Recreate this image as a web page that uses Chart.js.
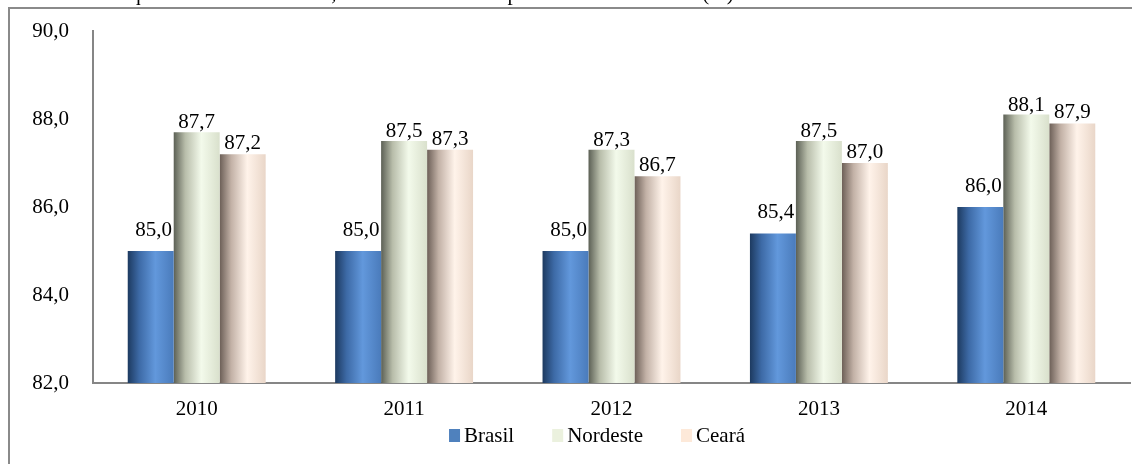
<!DOCTYPE html>
<html>
<head>
<meta charset="utf-8">
<script src="https://cdn.jsdelivr.net/npm/chart.js@4.4.1/dist/chart.umd.min.js"></script>
<style>
  html, body { margin: 0; padding: 0; background: #fff; overflow: hidden; }
  #wrap { position: relative; width: 1132px; height: 464px; }
  #frame { position: absolute; left: 8px; top: 7px; width: 1300px; height: 700px;
           border-top: 2px solid #8a8a8a; border-left: 2px solid #8a8a8a; }
  canvas { position: absolute; left: 0; top: 0; }
</style>
</head>
<body>
<div id="wrap">
  <div id="frame"></div>
  <canvas id="chart" width="1132" height="464"></canvas>
</div>
<script>
const titleText = "Taxa de frequência escolar – Brasil, Nordeste e Ceará – pessoas de 6 a 14 anos (%)";
const years = ["2010", "2011", "2012", "2013", "2014"];
const brasil = [85.0, 85.0, 85.0, 85.4, 86.0];
const nordeste = [87.7, 87.5, 87.3, 87.5, 88.1];
const ceara = [87.2, 87.3, 86.7, 87.0, 87.9];
const yTicks = [82, 84, 86, 88, 90];

const FONT = '"Liberation Serif", "Times New Roman", serif';
const SIZE = 21;

// dark edge -> light middle -> slightly darker right edge, like the 3D cylinders
const shades = [
  { legend: "#4f81bd", stops: ["#1d3a60", "#3d6aa6", "#6298dc", "#4a7bbb"], labelGap: 15 },
  { legend: "#ebf1de", stops: ["#5c6055", "#b8bdaa", "#f3faeb", "#d9e0cc"], labelGap: 4 },
  { legend: "#fde9d9", stops: ["#6c5f57", "#c2b1a6", "#fff3ea", "#e9d6c8"], labelGap: 5 }
];

function fmt(v) {
  return v.toFixed(1).replace(".", ",");
}

const gradientBars = {
  id: "gradientBars",
  beforeDatasetsDraw(chart) {
    const ctx = chart.ctx;
    chart.data.datasets.forEach((ds, i) => {
      const s = shades[i].stops;
      chart.getDatasetMeta(i).data.forEach(el => {
        const { x, width } = el.getProps(["x", "width"], true);
        const g = ctx.createLinearGradient(x - width / 2, 0, x + width / 2, 0);
        g.addColorStop(0, s[0]);
        g.addColorStop(0.25, s[1]);
        g.addColorStop(0.6, s[2]);
        g.addColorStop(1, s[3]);
        el.options = Object.assign({}, el.options, { backgroundColor: g });
      });
    });
  }
};

const valueLabels = {
  id: "valueLabels",
  afterDatasetsDraw(chart) {
    const ctx = chart.ctx;
    ctx.save();
    ctx.font = SIZE + "px " + FONT;
    ctx.fillStyle = "#000";
    ctx.textAlign = "center";
    ctx.textBaseline = "alphabetic";
    chart.data.datasets.forEach((ds, i) => {
      chart.getDatasetMeta(i).data.forEach((el, j) => {
        const { x, y } = el.getProps(["x", "y"], true);
        ctx.fillText(fmt(ds.data[j]), x + (i === 0 ? 3 : 0), y - shades[i].labelGap);
      });
    });
    ctx.restore();
  }
};

const extras = {
  id: "extras",
  afterDraw(chart) {
    const ctx = chart.ctx;
    ctx.save();
    // title, mostly cut off above the frame
    ctx.font = "21px " + FONT;
    ctx.fillStyle = "#000";
    ctx.textBaseline = "alphabetic";
    ctx.textAlign = "left";
    ctx.fillText(titleText, 36, 0);

    // legend
    ctx.font = SIZE + "px " + FONT;
    ctx.textBaseline = "middle";
    const box = 11, gap = 4, between = 38;
    const widths = chart.data.datasets.map(ds => box + gap + ctx.measureText(ds.label).width);
    const total = widths.reduce((a, b) => a + b, 0) + between * (widths.length - 1);
    let x = 597 - total / 2;
    const cy = 436;
    chart.data.datasets.forEach((ds, i) => {
      ctx.fillStyle = shades[i].legend;
      ctx.fillRect(x, cy - 7, box, 13);
      ctx.fillStyle = "#000";
      ctx.fillText(ds.label, x + box + gap, cy);
      x += widths[i] + between;
    });
    ctx.restore();
  }
};

new Chart(document.getElementById("chart"), {
  type: "bar",
  data: {
    labels: years,
    datasets: [
      { label: "Brasil", data: brasil },
      { label: "Nordeste", data: nordeste },
      { label: "Ceará", data: ceara }
    ]
  },
  options: {
    responsive: false,
    animation: false,
    layout: { padding: { top: 31, right: 2, bottom: 0, left: 0 } },
    datasets: {
      bar: {
        categoryPercentage: 0.665,
        barPercentage: 1,
        borderWidth: 0,
        backgroundColor: (c) => shades[c.datasetIndex].legend
      }
    },
    plugins: {
      legend: { display: false },
      tooltip: { enabled: false }
    },
    scales: {
      x: {
        grid: { display: false },
        border: { display: true, color: "#868686", width: 2 },
        ticks: { color: "#000", font: { family: FONT, size: SIZE }, padding: 6 },
        afterFit(scale) { scale.height = 81; }
      },
      y: {
        min: 82,
        max: 90,
        afterBuildTicks(scale) { scale.ticks = yTicks.map(v => ({ value: v })); },
        grid: { display: false },
        border: { display: true, color: "#868686", width: 2 },
        ticks: {
          color: "#000",
          font: { family: FONT, size: SIZE },
          padding: 16,
          callback: (v) => fmt(v)
        },
        afterFit(scale) { scale.width = 93; }
      }
    }
  },
  plugins: [gradientBars, valueLabels, extras]
});
</script>
</body>
</html>
